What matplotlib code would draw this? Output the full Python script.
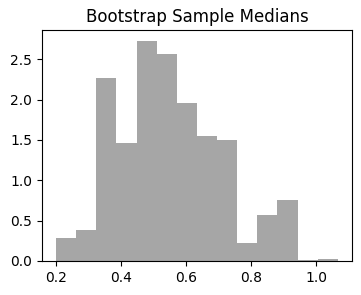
import matplotlib
matplotlib.use('Agg')
import matplotlib.pyplot as plt
import numpy as np

# bin edges of the histogram (14 equal bins)
bin_start = 0.2
bin_end = 1.067
n_bins = 14

# density heights
heights = [0.285, 0.384, 2.268, 1.462, 2.726, 2.565, 1.958,
           1.549, 1.499, 0.223, 0.570, 0.760, 0.012, 0.025]


def main():
    edges = np.linspace(bin_start, bin_end, n_bins + 1)
    centers = (edges[:-1] + edges[1:]) / 2

    fig = plt.figure(figsize=(3.61, 2.95), dpi=100)
    ax = fig.add_axes([0.1163, 0.1153, 0.8587, 0.7827])
    ax.hist(centers, bins=edges, weights=heights, color='gray', alpha=0.7)
    ax.set_title('Bootstrap Sample Medians')
    ax.set_xticks([0.2, 0.4, 0.6, 0.8, 1.0])
    ax.set_yticks([0.0, 0.5, 1.0, 1.5, 2.0, 2.5])
    fig.savefig('out.png', dpi=100)


if __name__ == "__main__":
    main()
